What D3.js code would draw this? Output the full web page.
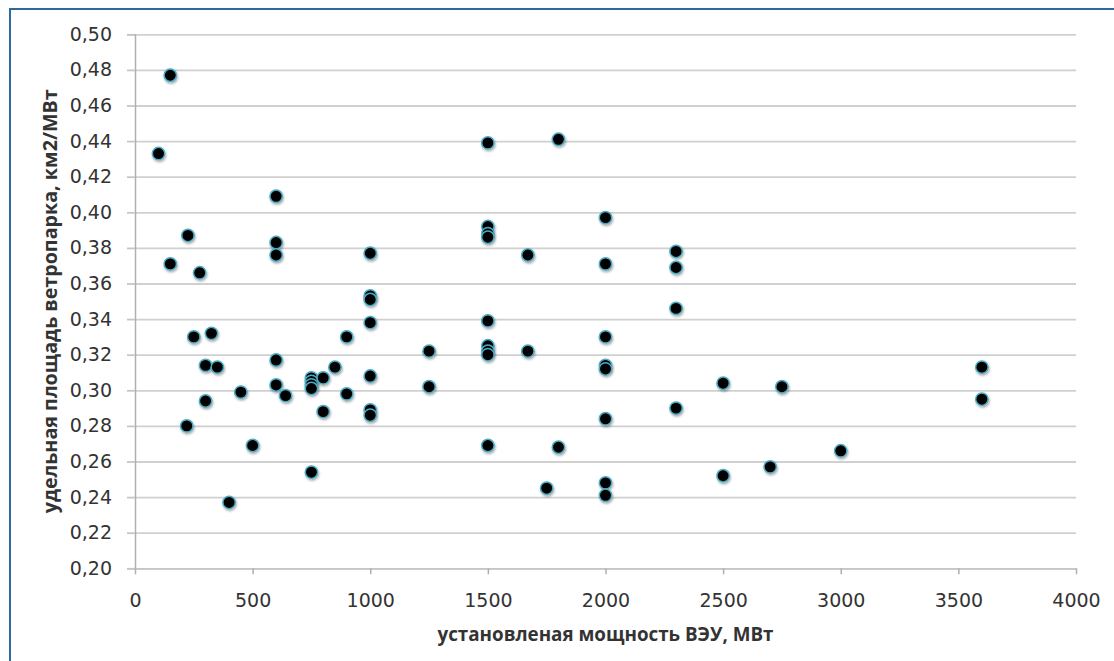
<!DOCTYPE html>
<html>
<head>
<meta charset="utf-8">
<script src="https://cdn.jsdelivr.net/npm/d3@7"></script>
<style>
  html, body { margin: 0; padding: 0; background: #fff; }
  svg { display: block; }
</style>
</head>
<body>
<svg id="chart" width="1114" height="661"></svg>
<script>
// ---- data ----
const capacityMW = [100,150,150,220,225,250,275,300,300,325,350,400,450,500,
  600,600,600,600,600,640,750,750,750,750,750,800,800,850,900,900,
  1000,1000,1000,1000,1000,1000,1000,1250,1250,
  1500,1500,1500,1500,1500,1500,1500,1500,1500,1670,1670,1750,1800,1800,
  2000,2000,2000,2000,2000,2000,2000,2000,2300,2300,2300,2300,
  2500,2500,2700,2750,3000,3600,3600];
const areaPerMW = [0.433,0.477,0.371,0.280,0.387,0.330,0.366,0.314,0.294,0.332,0.313,0.237,0.299,0.269,
  0.409,0.383,0.376,0.317,0.303,0.297,0.307,0.305,0.303,0.301,0.254,0.307,0.288,0.313,0.330,0.298,
  0.377,0.353,0.351,0.338,0.308,0.289,0.286,0.322,0.302,
  0.439,0.392,0.388,0.386,0.339,0.325,0.322,0.320,0.269,0.376,0.322,0.245,0.441,0.268,
  0.397,0.371,0.330,0.314,0.312,0.284,0.248,0.241,0.378,0.369,0.346,0.290,
  0.304,0.252,0.257,0.302,0.266,0.313,0.295];
const xTicks = [0,500,1000,1500,2000,2500,3000,3500,4000];
const yTicks = [0.20,0.22,0.24,0.26,0.28,0.30,0.32,0.34,0.36,0.38,0.40,0.42,0.44,0.46,0.48,0.50];
const xTitle = "установленая мощность ВЭУ, МВт";
const yTitle = "удельная площадь ветропарка, км2/МВт";

(function () {
const points = capacityMW.map((c, i) => ({x: c, y: areaPerMW[i]}));

// ---- layout ----
const svg = d3.select("#chart");
const pL = 135, pR = 1076, pT = 34.3, pB = 568.3;
const x = d3.scaleLinear().domain([0, 4000]).range([pL, pR]);
const y = d3.scaleLinear().domain([0.20, 0.50]).range([pB, pT]);
const fmt = d => d3.format(".2f")(d).replace(".", ",");
const textColor = "#333333";
const tickFont = "'DejaVu Sans', sans-serif";
const titleFont = "'Open Sans', 'Liberation Sans', sans-serif";

// frame (blue border, left + top visible)
svg.append("rect")
  .attr("x", 10).attr("y", 9).attr("width", 1200).attr("height", 700)
  .attr("fill", "none").attr("stroke", "#2d6b9e").attr("stroke-width", 2);

// grid lines via y axis
const gy = svg.append("g").attr("transform", `translate(${pL},0)`)
  .call(d3.axisLeft(y).tickValues(yTicks).tickSize(-(pR - pL)).tickFormat(""));
gy.select(".domain").remove();
gy.selectAll(".tick line").attr("stroke", "#d0d0d0").attr("stroke-width", 1.8);

// y axis with outward ticks and labels
const gyA = svg.append("g").attr("transform", `translate(${pL},0)`)
  .call(d3.axisLeft(y).tickValues(yTicks).tickSize(8).tickPadding(15).tickFormat(fmt));
gyA.select(".domain").attr("stroke", "#b0b0b0").attr("stroke-width", 1.5);
gyA.selectAll(".tick line").attr("stroke", "#c6c6c6").attr("stroke-width", 1.8);
gyA.selectAll(".tick text").attr("fill", textColor).style("font-family", tickFont).style("font-size", "19px");

// x axis
const gx = svg.append("g").attr("transform", `translate(0,${pB})`)
  .call(d3.axisBottom(x).tickValues(xTicks).tickSize(6).tickSizeOuter(0).tickPadding(19).tickFormat(d3.format("d")));
gx.select(".domain").attr("stroke", "#c6c6c6").attr("stroke-width", 1.8);
gx.selectAll(".tick line").attr("stroke", "#b0b0b0").attr("stroke-width", 1.5);
gx.selectAll(".tick text").attr("fill", textColor).style("font-family", tickFont).style("font-size", "19px");

// shadow filter
const defs = svg.append("defs");
const f = defs.append("filter").attr("id", "sh").attr("x", "-50%").attr("y", "-50%").attr("width", "200%").attr("height", "200%");
f.append("feDropShadow").attr("dx", 0.8).attr("dy", 1.6).attr("stdDeviation", 1.2)
  .attr("flood-color", "#000").attr("flood-opacity", 0.35);

// points
svg.append("g").selectAll("circle").data(points).join("circle")
  .attr("cx", d => x(d.x)).attr("cy", d => y(d.y)).attr("r", 6.2)
  .attr("fill", "#000").attr("stroke", "#4bacc6").attr("stroke-width", 1.5)
  .attr("filter", "url(#sh)");

// titles
svg.append("text")
  .attr("x", (pL + pR) / 2).attr("y", 641)
  .attr("text-anchor", "middle")
  .attr("textLength", 336).attr("lengthAdjust", "spacingAndGlyphs")
  .attr("fill", textColor).style("font-family", titleFont).style("font-weight", "bold").style("font-size", "20px")
  .text(xTitle);

svg.append("text")
  .attr("transform", `translate(57,${(pT + pB) / 2}) rotate(-90)`)
  .attr("text-anchor", "middle")
  .attr("textLength", 424).attr("lengthAdjust", "spacingAndGlyphs")
  .attr("fill", textColor).style("font-family", titleFont).style("font-weight", "bold").style("font-size", "20px")
  .text(yTitle);
})();
</script>
</body>
</html>
